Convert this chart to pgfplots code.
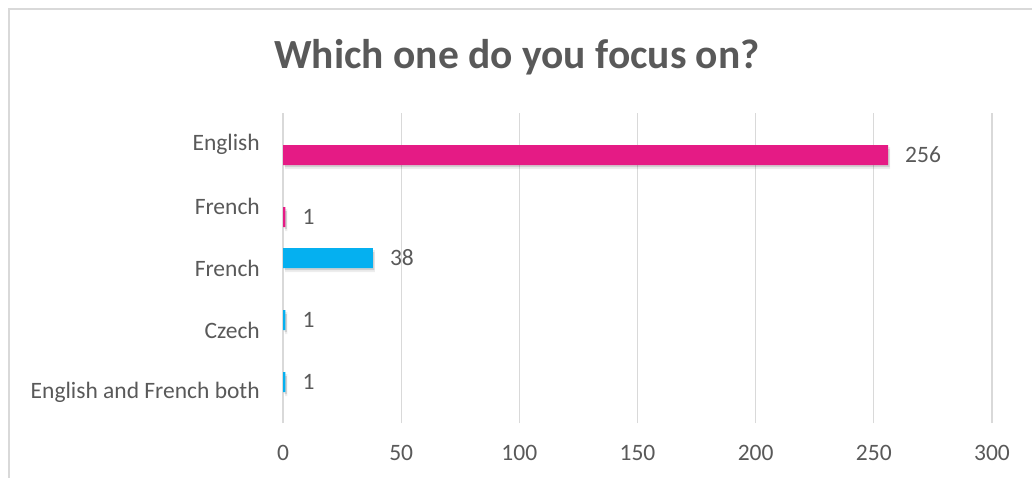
\documentclass[border=0pt]{standalone}
\usepackage{pgfplots}
\pgfplotsset{compat=1.18}
\usepackage{fontspec}
\setmainfont{Carlito}
\definecolor{pinkMain}{HTML}{E51B85}
\definecolor{blueMain}{HTML}{05B0F0}
\definecolor{gridGray}{HTML}{D9D9D9}
\definecolor{textGray}{HTML}{595959}
\begin{document}
\begin{tikzpicture}[x=1pt,y=1pt]
\useasboundingbox (0,0) rectangle (1032,477);
\draw[gridGray, line width=1.5pt] (9,-2) -- (9,468) -- (1035,468);
\node[anchor=base, text=textGray, font=\fontsize{41.5}{48}\selectfont\bfseries, inner sep=0pt] at (517,408) {Which one do you focus on?};
\begin{axis}[
  at={(283pt,54pt)}, anchor=south west,
  scale only axis, width=709pt, height=310pt,
  xmin=0, xmax=300, ymin=-0.5, ymax=4.5,
  xtick={0,50,...,300},
  ytick={0,1,2,3,4},
  yticklabels={English and French both,Czech,French,French,English},
  axis line style={draw=none},
  major tick length=0pt,
  xmajorgrids, grid style={gridGray, line width=1.3pt},
  /pgf/number format/assume math mode=true,
  ticklabel style={text=textGray, font=\fontsize{23.5}{28}\selectfont, inner sep=0pt},
  xticklabel style={anchor=north, yshift=-22pt},
  yticklabel style={anchor=east, xshift=-23pt},
  xbar, bar width=20pt,
  clip=false,
]
% soft shadows (same data)
\addplot[xbar, draw=none, fill=black, opacity=0.07, bar width=22pt, bar shift=-14pt, xshift=2pt] coordinates {(256,4) (1,3)};
\addplot[xbar, draw=none, fill=black, opacity=0.12, bar width=18pt, bar shift=-14pt, xshift=1.5pt] coordinates {(256,4) (1,3)};
\addplot[xbar, draw=none, fill=black, opacity=0.07, bar width=22pt, bar shift=7pt, xshift=2pt] coordinates {(38,2) (1,1) (1,0)};
\addplot[xbar, draw=none, fill=black, opacity=0.12, bar width=18pt, bar shift=7pt, xshift=1.5pt] coordinates {(38,2) (1,1) (1,0)};
% main bars
\addplot[xbar, draw=none, fill=pinkMain, bar shift=-11pt,
  nodes near coords, point meta=x,
  every node near coord/.append style={anchor=west, inner sep=0pt, xshift=17pt, text=textGray, font=\fontsize{23.5}{28}\selectfont}]
  coordinates {(256,4) (1,3)};
\addplot[xbar, draw=none, fill=blueMain, bar shift=10pt,
  nodes near coords, point meta=x,
  every node near coord/.append style={anchor=west, inner sep=0pt, xshift=17pt, text=textGray, font=\fontsize{23.5}{28}\selectfont}]
  coordinates {(38,2) (1,1) (1,0)};
\end{axis}
\end{tikzpicture}
\end{document}
